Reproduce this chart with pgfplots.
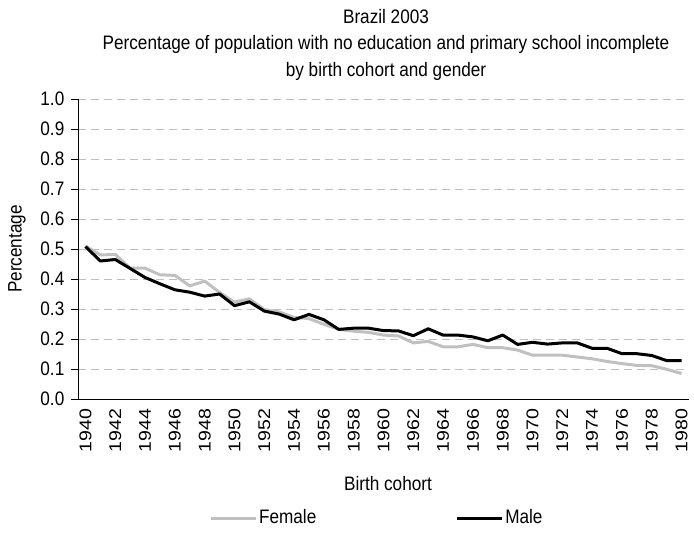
\documentclass[border=0pt]{standalone}
\usepackage{pgfplots}
\pgfplotsset{compat=1.18}
\usepackage{fontspec}
\setmainfont[FakeStretch=0.88]{Liberation Sans}
\newfontfamily\rotfont[FakeStretch=1.15]{Liberation Sans}
\definecolor{fem}{RGB}{192,192,192}
\definecolor{gridc}{RGB}{190,190,190}
\newcommand{\hf}{\fontsize{19.5bp}{22bp}\selectfont}
\begin{document}
\hf
\begin{tikzpicture}[x=1bp,y=1bp]
\path[use as bounding box] (0,0) rectangle (694,533);
\begin{axis}[
  at={(78bp,134bp)}, anchor=south west,
  scale only axis, width=611bp, height=300bp,
  xmin=1939.5, xmax=1980.5, ymin=0, ymax=1,
  axis x line=bottom, axis y line=left,
  axis line style={-, line width=0.8bp, black},
  ytick={0,0.1,...,1.01},
  yticklabel style={font=\hf, /pgf/number format/.cd, fixed, fixed zerofill, precision=1, assume math mode=true},
  ytick align=outside, ytick style={line width=0.8bp, black}, major tick length=7bp,
  xtick={1940,1942,...,1980},
  xticklabel shift=3bp,
  xticklabel style={font=\rotfont\fontsize{17bp}{20bp}\selectfont, rotate=90, anchor=east, /pgf/number format/.cd, set thousands separator={}, assume math mode=true},
  xtick style={draw=none},
  minor xtick={1939.5,1940.5,...,1980.6},
  minor x tick style={line width=0.8bp, black},
  minor tick length=6bp,
  xtick align=inside,
  ymajorgrids, grid style={gridc, line width=0.8bp, dash pattern=on 8bp off 5bp},
  legend columns=2,
  legend style={at={(0.489,-0.397)}, anchor=center, draw=none, fill=none,
    font=\hf,
    /tikz/every even column/.append style={column sep=137bp},
    cells={anchor=west}},
  legend image code/.code={\draw[#1] (0bp,0bp) -- (45bp,0bp);},
]
\addplot[fem, line width=3bp, line join=round] coordinates {
(1940,0.510) (1941,0.480) (1942,0.482) (1943,0.436) (1944,0.436) (1945,0.414)
(1946,0.412) (1947,0.377) (1948,0.393) (1949,0.355) (1950,0.323) (1951,0.334)
(1952,0.298) (1953,0.290) (1954,0.272) (1955,0.268) (1956,0.249) (1957,0.232)
(1958,0.226) (1959,0.222) (1960,0.213) (1961,0.210) (1962,0.187) (1963,0.192)
(1964,0.174) (1965,0.174) (1966,0.182) (1967,0.171) (1968,0.171) (1969,0.163)
(1970,0.146) (1971,0.146) (1972,0.146) (1973,0.140) (1974,0.134) (1975,0.125)
(1976,0.118) (1977,0.112) (1978,0.111) (1979,0.099) (1980,0.085)};
\addlegendentry{Female}
\addplot[black, line width=3bp, line join=round] coordinates {
(1940,0.508) (1941,0.460) (1942,0.465) (1943,0.435) (1944,0.405) (1945,0.384)
(1946,0.364) (1947,0.356) (1948,0.343) (1949,0.350) (1950,0.311) (1951,0.324)
(1952,0.293) (1953,0.283) (1954,0.264) (1955,0.282) (1956,0.264) (1957,0.232)
(1958,0.236) (1959,0.236) (1960,0.228) (1961,0.227) (1962,0.211) (1963,0.234)
(1964,0.213) (1965,0.213) (1966,0.207) (1967,0.194) (1968,0.213) (1969,0.182)
(1970,0.189) (1971,0.183) (1972,0.187) (1973,0.187) (1974,0.169) (1975,0.169)
(1976,0.151) (1977,0.151) (1978,0.145) (1979,0.128) (1980,0.128)};
\addlegendentry{Male}
\end{axis}
\node at (386,516) {Brazil 2003};
\node at (386,489) {Percentage of population with no education and primary school incomplete};
\node at (386,462) {by birth cohort and gender};
\node[rotate=90] at (17,284) {Percentage};
\node at (388,49) {Birth cohort};
\end{tikzpicture}
\end{document}
